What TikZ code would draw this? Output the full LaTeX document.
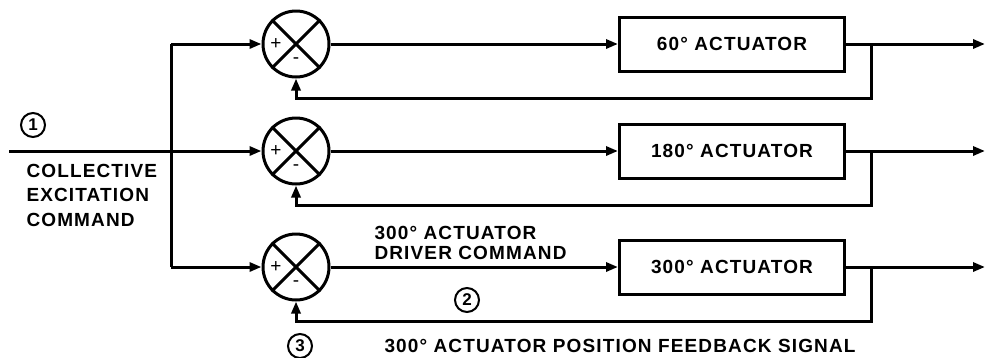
\documentclass[tikz,border=0pt]{standalone}
\usepackage{fontspec}
\newfontfamily\lblfont[LetterSpace=6]{Liberation Sans}
\newfontfamily\numfont{Liberation Sans}
\usetikzlibrary{arrows.meta}
\begin{document}
\begin{tikzpicture}[x=1pt,y=-1pt, line width=3pt,
  sumj/.style={circle, draw, minimum size=66pt, inner sep=0pt},
  blk/.style={draw, minimum width=225pt, minimum height=54pt, inner sep=0pt, font=\lblfont\fontsize{19}{19}\selectfont\bfseries},
  arr/.style={-{Triangle[length=12pt,width=9pt]}},
  txt/.style={inner sep=0pt, align=left, font=\lblfont\fontsize{19}{20}\selectfont\bfseries},
  sgn/.style={inner sep=0pt, font=\numfont\fontsize{19}{19}\selectfont},
  num/.style={circle, draw, line width=2pt, minimum size=24pt, inner sep=0pt, font=\numfont\fontsize{17}{17}\selectfont\bfseries}
]
\path[use as bounding box] (0,0) rectangle (987,357);

% summing junctions
\node[sumj] (s1) at (296,44) {};
\node[sumj] (s2) at (296,151) {};
\node[sumj] (s3) at (296,267) {};
\foreach \s in {s1,s2,s3}{
  \draw (\s.north west) -- (\s.south east);
  \draw (\s.north east) -- (\s.south west);
  \node[sgn] (\s p) at (\s.center) [xshift=-20pt] {+};
  \node[sgn] (\s m) at (\s.center) [yshift=-17pt] {-};
}

% actuator blocks
\node[blk] (b1) at (732,44) {60° ACTUATOR};
\node[blk] (b2) at (732,151) {180° ACTUATOR};
\node[blk] (b3) at (732,267) {300° ACTUATOR};

% input distribution
\coordinate (in) at (9,151);
\coordinate (v1) at (171,44);
\coordinate (v3) at (171,267);
\draw[arr] (in) -- (s2.west);
\draw (v1) -- (v3);
\draw[arr] (v1) -- (s1.west);
\draw[arr] (v3) -- (s3.west);

% forward paths, outputs and feedback
\foreach \i/\y in {1/44,2/151,3/267}{
  \draw[arr] (s\i.east) -- (b\i.west);
  \coordinate (o\i) at (985,\y);
  \draw[arr] (b\i.east) -- (o\i);
  \coordinate (f\i) at (871,\y);
  \draw[arr] (f\i) -- ++(0,54) -| (s\i.south);
}

% labels
\node[num] (n1) at (33,125) {1};
\node[txt, anchor=west] (l1) at (25,195) {COLLECTIVE\\[4.5pt]EXCITATION\\[4.5pt]COMMAND};
\node[txt, anchor=west] (l2) at (373,243) {300° ACTUATOR\\DRIVER COMMAND};
\node[num] (n2) at (467,300) {2};
\node[num] (n3) at (300,346) {3};
\node[txt, anchor=west] (l3) at (383,346) {300° ACTUATOR POSITION FEEDBACK SIGNAL};
\end{tikzpicture}
\end{document}
